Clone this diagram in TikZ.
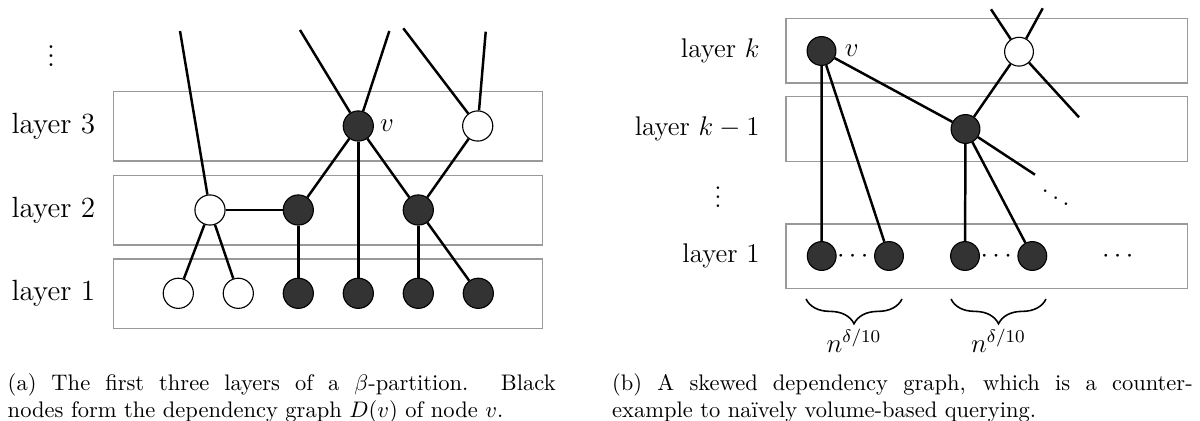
\documentclass[tikz,border=0pt]{standalone}
\usepackage{amsmath}
\usepackage{amssymb}
\usepackage{tikz}
\usetikzlibrary{decorations.pathreplacing}
\usetikzlibrary{positioning}
\tikzset{layerbox/.style = {draw=black!40, line width=0.6pt}}
\tikzset{blk/.style = {circle, draw, fill=black!80, inner sep=0, minimum size=13.4pt, line width=0.5pt}}
\tikzset{wht/.style = {circle, draw, fill=white, inner sep=0, minimum size=13.4pt, line width=0.5pt}}
\tikzset{edge/.style = {line width=1.1pt}}
\tikzset{lbl/.style = {anchor=east, inner sep=0, font=\fontsize{12}{14}\selectfont}}
\tikzset{big/.style = {inner sep=0, font=\fontsize{12}{14}\selectfont}}
\tikzset{capt/.style = {anchor=base west, inner sep=0}}
\tikzset{brc/.style = {decorate, decoration={brace, mirror, amplitude=11pt}, line width=0.7pt}}

\begin{document}
\begin{tikzpicture}[x=0.4444pt, y=-0.4444pt]
    \useasboundingbox (0,0) rectangle (1200,421);

    % (a) three layers
    \foreach \y/\t/\c in {91.7/3/126, 175.7/2/210, 259/1/293.3} {
      \draw [layerbox] (113.3,\y) rectangle +(429.2,69.3);
      \node [lbl, font=\fontsize{13}{15}\selectfont] (la\t) at (95.7,\c) {layer \t};
    }
    \node [big, font=\fontsize{13}{15}\selectfont] (ladots) at (51,49) {$\vdots$};

    \foreach \i/\x/\s in {1/178.3/wht, 2/238.3/wht, 3/298.3/blk, 4/358.3/blk, 5/418.3/blk, 6/478.3/blk} {
      \node [\s] (a1\i) at (\x,293.3) {};
    }
    \node [wht] (a21) at (210,210) {};
    \node [blk] (a22) at (298.3,210) {};
    \node [blk] (a23) at (418.3,210) {};
    \node [blk] (a31) at (358.3,126) {};
    \node [wht] (a32) at (477.7,126) {};
    \node [big, font=\fontsize{13}{15}\selectfont] (av) at (387,126) {$v$};

    \coordinate (at1) at (180,31);
    \coordinate (at2) at (300,30);
    \coordinate (at3) at (389.3,31);
    \coordinate (at4) at (403.3,28.3);
    \coordinate (at5) at (485.7,31.7);

    \draw [edge] (a21) -- (at1);
    \draw [edge] (a21) -- (a11);
    \draw [edge] (a21) -- (a12);
    \draw [edge] (a21) -- (a22);
    \draw [edge] (a22) -- (a13);
    \draw [edge] (a31) -- (a22);
    \draw [edge] (a31) -- (a14);
    \draw [edge] (a31) -- (a23);
    \draw [edge] (a31) -- (at2);
    \draw [edge] (a31) -- (at3);
    \draw [edge] (a23) -- (a15);
    \draw [edge] (a23) -- (a16);
    \draw [edge] (a32) -- (a23);
    \draw [edge] (a32) -- (at4);
    \draw [edge] (a32) -- (at5);

    % (b) skewed graph
    \foreach \y in {18.3, 96.7, 224} {
      \draw [layerbox] (786,\y) rectangle +(401.5,64.7);
    }
    \node [lbl] (lbk) at (760,50.7) {layer $k$};
    \node [lbl] (lbk1) at (760,129.2) {layer $k-1$};
    \node [lbl] (lb1) at (760,256) {layer 1};
    \node [big] (lbdots) at (718,190) {$\vdots$};

    \node [blk, minimum size=12.8pt] (b31) at (821.5,51) {};
    \node [wht, minimum size=12.8pt] (b32) at (1019,51.7) {};
    \node [blk, minimum size=12.8pt] (b21) at (965.5,129) {};
    \foreach \i/\x in {1/821.7, 2/889, 3/965, 4/1032.3} {
      \node [blk, minimum size=12.8pt] (b1\i) at (\x,256) {};
    }
    \node [big] (bv) at (851.7,50.7) {$v$};
    \node [big] (bc1) at (855,256) {$\cdots$};
    \node [big] (bc2) at (998.5,256) {$\cdots$};
    \node [big] (bc3) at (1120,256) {$\cdots$};
    \node [big] (bdd) at (1055.7,191) {$\ddots$};

    \coordinate (bt1) at (991,9.3);
    \coordinate (bt2) at (1042.7,8.3);
    \coordinate (bt3) at (1079,117.3);
    \coordinate (bt4) at (1035,174.7);

    \draw [edge] (b31) -- (b11);
    \draw [edge] (b31) -- (b12);
    \draw [edge] (b31) -- (b21);
    \draw [edge] (b32) -- (b21);
    \draw [edge] (b32) -- (bt1);
    \draw [edge] (b32) -- (bt2);
    \draw [edge] (b32) -- (bt3);
    \draw [edge] (b21) -- (b13);
    \draw [edge] (b21) -- (b14);
    \draw [edge] (b21) -- (bt4);

    \coordinate (bl1) at (806,299);
    \coordinate (br1) at (902,299);
    \coordinate (bl2) at (951,299);
    \coordinate (br2) at (1046,299);
    \draw [brc] (bl1) -- (br1);
    \draw [brc] (bl2) -- (br2);
    \node [big] (bn1) at (854,341) {$n^{\delta/10}$};
    \node [big] (bn2) at (998.5,341) {$n^{\delta/10}$};

    % captions
    \node [capt] (capa1) at (7.3,390) {\makebox[243.5pt][s]{(a) The first three layers of a $\beta$-partition. Black}};
    \node [capt] (capa2) at (7.3,417) {nodes form the dependency graph $D(v)$ of node $v$.};
    \node [capt] (capb1) at (611.7,390) {\makebox[258pt][s]{(b) A skewed dependency graph, which is a counter-}};
    \node [capt] (capb2) at (611.7,417) {example to na\"{\i}vely volume-based querying.};
\end{tikzpicture}
\end{document}
